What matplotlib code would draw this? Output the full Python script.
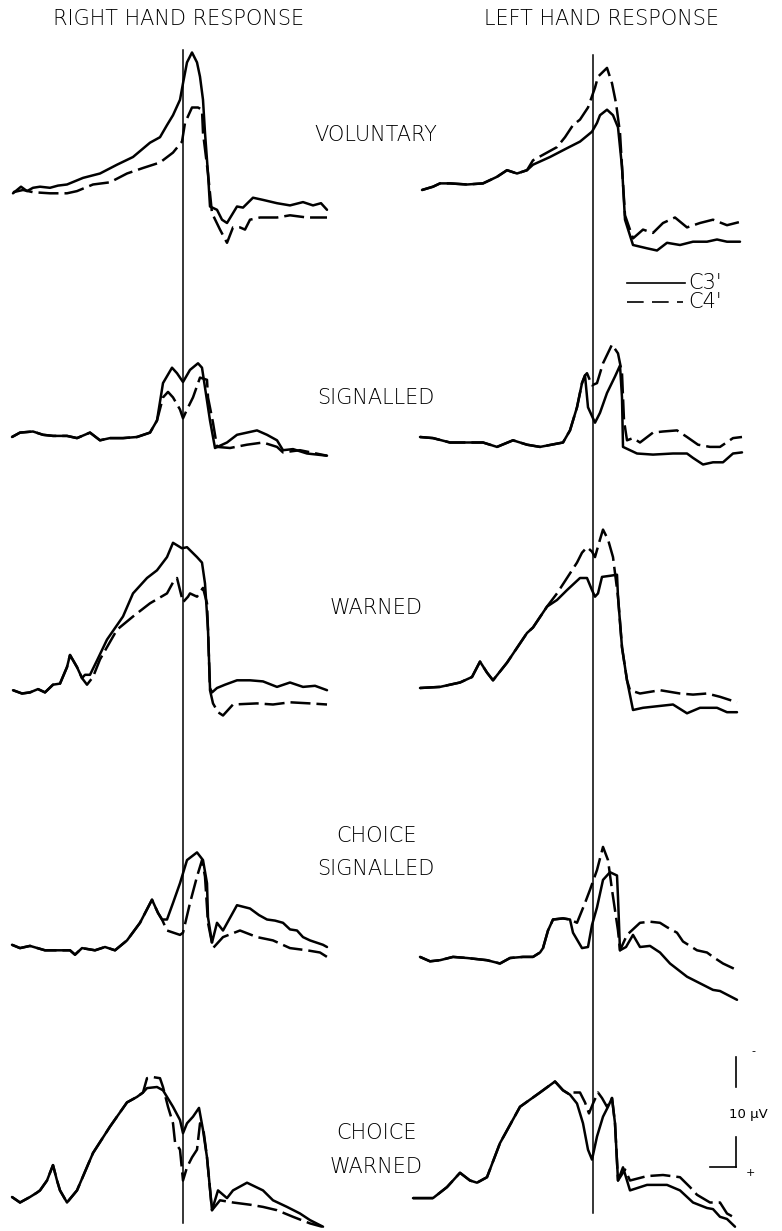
import matplotlib
matplotlib.use("Agg")
import matplotlib.pyplot as plt
import numpy as np

# Averaged scalp potentials, C3' (solid) and C4' (dashed), time-locked to the
# response.  Each trace is a list of (time in ms, amplitude in uV) pairs,
# negative up.

# --- voluntary
vol_r_c3 = [(-1700, 0.3), (-1620, -0.3), (-1560, 0.1), (-1500, -0.2), (-1430, -0.3), (-1330, -0.2),
            (-1250, -0.4), (-1160, -0.5), (-1000, -1.1), (-830, -1.5), (-660, -2.3), (-500, -3.0),
            (-330, -4.3), (-230, -4.8), (-160, -5.9), (-100, -6.8), (-30, -8.2), (0, -9.7),
            (40, -11.6), (90, -12.5), (140, -11.6), (170, -10.3), (200, -8.2), (220, -5.2),
            (250, -1.5), (270, 1.5), (340, 1.8), (390, 2.7), (440, 3.0), (500, 2.1), (540, 1.5),
            (600, 1.6), (700, 0.7), (800, 0.9), (940, 1.2), (1070, 1.4), (1200, 1.1), (1300, 1.4),
            (1380, 1.2), (1440, 1.8)]
vol_r_c4 = [(-1700, 0.2), (-1600, 0.0), (-1500, 0.2), (-1330, 0.3), (-1160, 0.3), (-1060, 0.1),
            (-900, -0.5), (-730, -0.7), (-560, -1.5), (-400, -2.0), (-230, -2.5), (-100, -3.4),
            (-10, -4.4), (20, -6.1), (90, -7.5), (150, -7.5), (190, -7.3), (200, -5.2), (250, -1.5),
            (290, 2.1), (370, 3.6), (440, 4.8), (500, 3.4), (570, 3.4), (620, 3.6), (670, 2.7),
            (770, 2.5), (940, 2.5), (1070, 2.3), (1240, 2.5), (1440, 2.5)]
vol_l_c3 = [(-1710, 0.0), (-1600, -0.3), (-1530, -0.6), (-1430, -0.6), (-1260, -0.5), (-1100, -0.6),
            (-960, -1.2), (-860, -1.8), (-760, -1.5), (-660, -1.8), (-600, -2.3), (-430, -3.0),
            (-260, -3.8), (-130, -4.4), (-10, -5.3), (40, -6.1), (70, -6.8), (140, -7.3), (200, -6.8),
            (250, -5.7), (290, -2.1), (320, 2.7), (400, 5.0), (540, 5.3), (640, 5.5), (740, 4.8),
            (870, 5.0), (1000, 4.7), (1140, 4.7), (1240, 4.5), (1340, 4.7), (1470, 4.7)]
vol_l_c4 = [(-1710, 0.0), (-1600, -0.3), (-1530, -0.6), (-1430, -0.6), (-1260, -0.5), (-1100, -0.6),
            (-960, -1.2), (-860, -1.8), (-760, -1.5), (-660, -1.8), (-600, -2.7), (-500, -3.2),
            (-360, -3.9), (-280, -4.8), (-200, -5.9), (-130, -6.4), (-50, -7.5), (20, -9.3),
            (50, -10.3), (140, -11.1), (190, -9.7), (230, -7.9), (270, -5.2), (290, -2.1), (320, 2.3),
            (400, 4.4), (500, 3.6), (600, 3.9), (700, 3.0), (820, 2.5), (940, 3.4), (1070, 3.0),
            (1200, 2.7), (1340, 3.2), (1470, 2.9)]

# --- signalled
sig_r_c3 = [(-1710, 0.0), (-1630, -0.4), (-1500, -0.5), (-1400, -0.2), (-1300, -0.1), (-1160, -0.1),
            (-1060, 0.1), (-930, -0.4), (-830, 0.3), (-730, 0.1), (-600, 0.1), (-460, 0.0),
            (-330, -0.4), (-260, -1.5), (-200, -4.9), (-110, -6.3), (-60, -5.8), (0, -5.0), (70, -6.1),
            (150, -6.7), (190, -6.3), (220, -4.5), (270, -1.5), (320, 1.0), (440, 0.5), (540, -0.2),
            (640, -0.4), (740, -0.6), (840, -0.2), (940, 0.3), (1000, 1.2), (1100, 1.1), (1240, 1.5),
            (1440, 1.7)]
sig_r_c4 = [(-1710, 0.0), (-1630, -0.4), (-1500, -0.5), (-1400, -0.2), (-1300, -0.1), (-1160, -0.1),
            (-1060, 0.1), (-930, -0.4), (-830, 0.3), (-730, 0.1), (-600, 0.1), (-460, 0.0),
            (-330, -0.4), (-260, -1.5), (-200, -3.6), (-150, -4.1), (-100, -3.6), (-30, -2.5),
            (0, -1.7), (40, -2.5), (100, -3.6), (170, -5.4), (240, -5.2), (250, -3.6), (300, -1.3),
            (340, 0.9), (470, 1.0), (640, 0.7), (800, 0.5), (940, 0.9), (1000, 1.4), (1170, 1.2),
            (1440, 1.7)]
sig_l_c3 = [(-1730, 0.0), (-1600, 0.1), (-1430, 0.5), (-1260, 0.5), (-1100, 0.5), (-960, 0.9),
            (-800, 0.3), (-660, 0.7), (-530, 0.9), (-300, 0.5), (-230, -0.6), (-160, -2.7),
            (-110, -4.9), (-80, -5.6), (-50, -2.7), (20, -1.3), (70, -2.2), (140, -4.0), (220, -5.5),
            (270, -6.5), (290, -3.6), (300, 0.9), (440, 1.5), (600, 1.6), (800, 1.5), (940, 1.5),
            (1000, 1.9), (1100, 2.5), (1200, 2.3), (1300, 2.3), (1400, 1.5), (1490, 1.4)]
sig_l_c4 = [(-1730, 0.0), (-1600, 0.1), (-1430, 0.5), (-1260, 0.5), (-1100, 0.5), (-960, 0.9),
            (-800, 0.3), (-660, 0.7), (-530, 0.9), (-300, 0.5), (-230, -0.6), (-160, -2.7),
            (-110, -4.9), (-80, -5.6), (-60, -5.8), (-10, -4.7), (40, -4.9), (100, -6.7), (190, -8.4),
            (250, -7.6), (290, -5.8), (310, -1.5), (340, 0.3), (400, 0.1), (470, 0.5), (600, -0.4),
            (700, -0.5), (840, -0.6), (940, 0.0), (1050, 0.7), (1170, 0.9), (1270, 0.9), (1400, 0.1),
            (1490, 0.0)]

# --- warned
warn_r_c3 = [(-1700, 0.2), (-1610, 0.5), (-1530, 0.4), (-1450, 0.1), (-1380, 0.4), (-1300, -0.3),
             (-1230, -0.4), (-1160, -1.9), (-1130, -3.0), (-1060, -1.9), (-1010, -0.9), (-980, -1.2),
             (-930, -1.2), (-860, -2.5), (-760, -4.4), (-600, -6.5), (-500, -8.6), (-360, -10.0),
             (-260, -10.7), (-160, -11.9), (-100, -13.2), (-10, -12.7), (40, -12.8), (140, -11.9),
             (190, -11.4), (220, -9.5), (250, -5.3), (270, 0.0), (290, 0.4), (340, 0.0), (420, -0.3),
             (540, -0.7), (670, -0.7), (800, -0.6), (940, -0.1), (1070, -0.5), (1200, -0.1),
             (1320, -0.2), (1440, 0.2)]
warn_r_c4 = [(-1700, 0.2), (-1610, 0.5), (-1530, 0.4), (-1450, 0.1), (-1380, 0.4), (-1300, -0.3),
             (-1230, -0.4), (-1160, -1.9), (-1130, -3.0), (-1060, -1.9), (-1010, -0.9), (-960, -0.3),
             (-900, -1.0), (-830, -2.6), (-660, -5.3), (-500, -6.5), (-330, -7.7), (-160, -8.6),
             (-100, -9.6), (-60, -10.0), (-30, -8.9), (0, -7.8), (50, -8.3), (70, -8.6), (140, -8.3),
             (200, -9.1), (240, -7.7), (250, -5.3), (270, 0.2), (300, 1.4), (350, 2.2), (400, 2.5),
             (500, 1.5), (740, 1.4), (900, 1.5), (1070, 1.3), (1270, 1.4), (1440, 1.5)]
warn_l_c3 = [(-1730, 0.0), (-1530, -0.1), (-1330, -0.5), (-1210, -1.0), (-1130, -2.4), (-1060, -1.4),
             (-1000, -0.7), (-860, -2.3), (-660, -5.0), (-600, -5.5), (-460, -7.4), (-360, -8.0),
             (-260, -8.9), (-130, -10.0), (-60, -10.0), (-10, -8.9), (20, -8.3), (50, -8.6),
             (90, -10.1), (170, -10.2), (240, -10.3), (250, -8.3), (290, -3.7), (340, -0.7),
             (400, 2.0), (500, 1.8), (600, 1.7), (800, 1.5), (940, 2.3), (1070, 1.8), (1240, 1.8),
             (1340, 2.2), (1440, 2.2)]
warn_l_c4 = [(-1730, 0.0), (-1530, -0.1), (-1330, -0.5), (-1210, -1.0), (-1130, -2.4), (-1060, -1.4),
             (-1000, -0.7), (-860, -2.3), (-660, -5.0), (-600, -5.5), (-460, -7.4), (-360, -8.6),
             (-260, -10.0), (-160, -11.4), (-110, -12.3), (-60, -12.8), (-10, -12.4), (20, -11.9),
             (70, -13.5), (100, -14.4), (150, -13.5), (200, -11.9), (250, -8.3), (290, -3.7),
             (340, -0.7), (370, 0.2), (470, 0.5), (670, 0.2), (870, 0.5), (1000, 0.6), (1140, 0.5),
             (1270, 0.8), (1440, 1.3)]

# --- choice signalled
csig_r_c3 = [(-1710, -0.2), (-1630, 0.1), (-1530, -0.1), (-1380, 0.3), (-1230, 0.3), (-1130, 0.3),
             (-1080, 0.7), (-1010, 0.1), (-880, 0.3), (-780, 0.0), (-680, 0.3), (-560, -0.6),
             (-430, -2.2), (-310, -4.3), (-250, -3.1), (-210, -2.5), (-160, -2.5), (-100, -4.0),
             (-30, -5.8), (40, -7.9), (140, -8.6), (200, -7.9), (240, -5.8), (250, -2.7), (290, -0.4),
             (340, -2.2), (400, -1.5), (540, -3.8), (670, -3.5), (760, -2.9), (840, -2.5),
             (920, -2.4), (1000, -2.2), (1070, -1.6), (1140, -1.5), (1200, -0.9), (1270, -0.6),
             (1400, -0.2), (1440, 0.0)]
csig_r_c4 = [(-1710, -0.2), (-1630, 0.1), (-1530, -0.1), (-1380, 0.3), (-1230, 0.3), (-1130, 0.3),
             (-1080, 0.7), (-1010, 0.1), (-880, 0.3), (-780, 0.0), (-680, 0.3), (-560, -0.6),
             (-430, -2.2), (-310, -4.3), (-250, -3.1), (-210, -2.5), (-160, -1.5), (-30, -1.1),
             (0, -1.3), (70, -4.0), (140, -6.4), (190, -7.9), (220, -6.4), (250, -2.2), (300, 0.1),
             (400, -0.9), (570, -1.5), (740, -0.9), (900, -0.6), (1070, 0.1), (1240, 0.3), (1370, 0.5),
             (1440, 0.9)]
csig_l_c3 = [(-1730, 0.9), (-1630, 1.3), (-1530, 1.2), (-1400, 0.9), (-1260, 1.0), (-1160, 1.1),
             (-1060, 1.2), (-930, 1.5), (-830, 1.0), (-700, 0.9), (-600, 0.9), (-530, 0.5),
             (-500, 0.1), (-450, -1.5), (-400, -2.5), (-300, -2.6), (-230, -2.5), (-200, -1.3),
             (-110, 0.1), (-50, 0.0), (-10, -2.0), (40, -3.6), (100, -6.1), (170, -6.8), (240, -6.5),
             (250, -4.5), (270, 0.3), (330, 0.0), (400, -1.1), (470, 0.0), (570, -0.1), (670, 0.5),
             (770, 1.5), (940, 2.7), (1070, 3.3), (1200, 3.9), (1270, 4.0), (1440, 4.8)]
csig_l_c4 = [(-1730, 0.9), (-1630, 1.3), (-1530, 1.2), (-1400, 0.9), (-1260, 1.0), (-1160, 1.1),
             (-1060, 1.2), (-930, 1.5), (-830, 1.0), (-700, 0.9), (-600, 0.9), (-530, 0.5),
             (-500, 0.1), (-450, -1.5), (-400, -2.5), (-300, -2.6), (-230, -2.5), (-160, -2.2),
             (-80, -4.0), (-30, -5.2), (40, -7.0), (100, -9.1), (150, -7.9), (190, -5.2), (250, -1.5),
             (270, 0.3), (340, -1.1), (470, -2.2), (570, -2.3), (670, -2.2), (740, -1.8), (840, -1.3),
             (900, -0.5), (1040, 0.3), (1140, 0.5), (1200, 0.9), (1300, 1.5), (1440, 2.1)]

# --- choice warned
cwarn_r_c3 = [(-1710, 0.0), (-1630, 0.5), (-1530, 0.0), (-1460, -0.4), (-1430, -0.6), (-1360, -1.5),
              (-1300, -2.9), (-1260, -1.5), (-1230, -0.6), (-1160, 0.5), (-1060, -0.6), (-900, -4.0),
              (-730, -6.4), (-560, -8.6), (-460, -9.1), (-400, -9.5), (-360, -9.9), (-260, -10.0),
              (-200, -9.7), (-160, -9.1), (-100, -8.2), (-30, -7.0), (0, -5.8), (40, -6.7),
              (100, -7.3), (160, -8.1), (200, -6.1), (240, -3.6), (290, 1.2), (350, -0.6), (440, 0.1),
              (500, -0.6), (640, -1.3), (800, -0.6), (900, 0.3), (1040, 0.9), (1170, 1.5),
              (1270, 2.1), (1400, 2.7)]
cwarn_r_c4 = [(-1710, 0.0), (-1630, 0.5), (-1530, 0.0), (-1460, -0.4), (-1430, -0.6), (-1360, -1.5),
              (-1300, -2.9), (-1260, -1.5), (-1230, -0.6), (-1160, 0.5), (-1060, -0.6), (-900, -4.0),
              (-730, -6.4), (-560, -8.6), (-460, -9.1), (-400, -9.5), (-360, -10.8), (-300, -10.9),
              (-230, -10.8), (-200, -10.0), (-150, -8.2), (-100, -6.7), (-80, -5.0), (-30, -4.3),
              (0, -1.5), (40, -2.7), (90, -3.6), (140, -4.3), (170, -6.7), (200, -6.4), (240, -3.6),
              (290, 1.2), (370, 0.3), (500, 0.5), (670, 0.7), (800, 0.9), (940, 1.2), (1100, 1.8),
              (1270, 2.4), (1390, 2.7)]
cwarn_l_c3 = [(-1800, 0.1), (-1600, 0.1), (-1460, -0.9), (-1330, -2.2), (-1230, -1.5), (-1160, -1.3),
              (-1060, -1.8), (-930, -4.9), (-730, -8.2), (-530, -9.5), (-380, -10.5), (-300, -9.7),
              (-230, -9.3), (-160, -8.5), (-100, -6.7), (-50, -4.3), (-10, -3.4), (40, -5.5),
              (100, -7.3), (150, -8.2), (190, -9.0), (220, -6.7), (250, -1.5), (300, -2.7), (370, -0.6),
              (540, -1.1), (740, -1.1), (870, -0.6), (1000, 0.5), (1140, 1.0), (1200, 1.1),
              (1270, 1.8), (1340, 2.0), (1420, 2.7)]
cwarn_l_c4 = [(-1800, 0.1), (-1600, 0.1), (-1460, -0.9), (-1330, -2.2), (-1230, -1.5), (-1160, -1.3),
              (-1060, -1.8), (-930, -4.9), (-730, -8.2), (-530, -9.5), (-380, -10.5), (-300, -9.7),
              (-230, -9.3), (-200, -9.5), (-130, -9.5), (-80, -8.6), (-40, -7.6), (0, -8.5), (50, -9.5),
              (90, -9.0), (140, -8.2), (190, -9.0), (220, -6.7), (250, -1.5), (320, -2.5), (370, -1.5),
              (540, -1.9), (700, -2.0), (870, -1.8), (970, -0.9), (1040, -0.2), (1170, 0.5),
              (1270, 0.5), (1340, 1.5), (1420, 1.9)]

conditions = ["VOLUNTARY", "SIGNALLED", "WARNED", "CHOICE\nSIGNALLED", "CHOICE\nWARNED"]
right_hand = [(vol_r_c3, vol_r_c4), (sig_r_c3, sig_r_c4), (warn_r_c3, warn_r_c4),
              (csig_r_c3, csig_r_c4), (cwarn_r_c3, cwarn_r_c4)]
left_hand = [(vol_l_c3, vol_l_c4), (sig_l_c3, sig_l_c4), (warn_l_c3, warn_l_c4),
             (csig_l_c3, csig_l_c4), (cwarn_l_c3, cwarn_l_c4)]

# page layout (pixels)
W, H = 782, 1231
PX_PER_MS = 0.1
PX_PER_UV = 11.0
row_base = [190, 437, 688, 947, 1197]
label_y = [135, 398, 608, (836, 869), (1133, 1167)]

fig = plt.figure(figsize=(W / 100, H / 100), dpi=100)
fig.patch.set_facecolor("white")


def column_axes(x0, x1, zero_px):
    ax = fig.add_axes([x0 / W, 0, (x1 - x0) / W, 1])
    ax.set_xlim((x0 - zero_px) / PX_PER_MS, (x1 - zero_px) / PX_PER_MS)
    ax.set_ylim(H / PX_PER_UV, 0)  # negative up
    ax.set_axis_off()
    return ax


ax_r = column_axes(0, 391, 183)
ax_l = column_axes(391, 782, 593)

LW = 1.8
DASH = (0, (8, 2.4))


def draw_trace(ax, pairs, base_px, **kw):
    t, v = zip(*pairs)
    ax.plot(t, np.array(v) + base_px / PX_PER_UV, color="black", lw=LW,
            solid_joinstyle="round", solid_capstyle="round", **kw)


for ax, traces in ((ax_r, right_hand), (ax_l, left_hand)):
    for (c3, c4), base in zip(traces, row_base):
        draw_trace(ax, c3, base)
        draw_trace(ax, c4, base, linestyle=DASH, dash_capstyle="butt")

# response onset markers
ax_r.plot([0, 0], [50 / PX_PER_UV, 1223 / PX_PER_UV], color="black", lw=1.1)
ax_l.plot([0, 0], [55 / PX_PER_UV, 1213 / PX_PER_UV], color="black", lw=1.1)

TXT = dict(color="black", family="DejaVu Sans", fontsize=15, fontweight="light")
fig.text(179 / W, 1 - 19 / H, "RIGHT HAND RESPONSE", ha="center", va="center", **TXT)
fig.text(602 / W, 1 - 19 / H, "LEFT HAND RESPONSE", ha="center", va="center", **TXT)

for name, y in zip(conditions, label_y):
    lines = name.split("\n")
    ys = y if isinstance(y, tuple) else (y,)
    for line, yy in zip(lines, ys):
        fig.text(376 / W, 1 - yy / H, line, ha="center", va="center", **TXT)

# channel key
key_y3 = 283 / PX_PER_UV
key_y4 = 302 / PX_PER_UV
ax_l.plot([340, 920], [key_y3, key_y3], color="black", lw=1.2)
ax_l.plot([340, 900], [key_y4, key_y4], color="black", lw=1.2, linestyle=(0, (10, 5)))
ax_l.text(950, key_y3, "C3'", ha="left", va="center", **TXT)
ax_l.text(950, key_y4, "C4'", ha="left", va="center", **TXT)

# 10 uV calibration, negative up
bar_t = 1430
bar_bot = 1167 / PX_PER_UV
bar_top = bar_bot - 10
ax_l.plot([bar_t, bar_t], [bar_top, bar_top + 2.7], color="black", lw=1.2)
ax_l.plot([bar_t, bar_t], [bar_bot - 2.7, bar_bot], color="black", lw=1.2)
ax_l.plot([1170, bar_t], [bar_bot, bar_bot], color="black", lw=1.2)
ax_l.text(1600, bar_top - 0.5, "-", ha="center", va="center", fontsize=8, color="black")
ax_l.text(1570, bar_bot + 0.5, "+", ha="center", va="center", fontsize=8, color="black")
ax_l.text(1550, (bar_top + bar_bot) / 2 + 0.2, "10 µV", ha="center", va="center",
          color="black", family="DejaVu Sans", fontsize=9.5)

fig.savefig("out.png", dpi=100, facecolor="white")
